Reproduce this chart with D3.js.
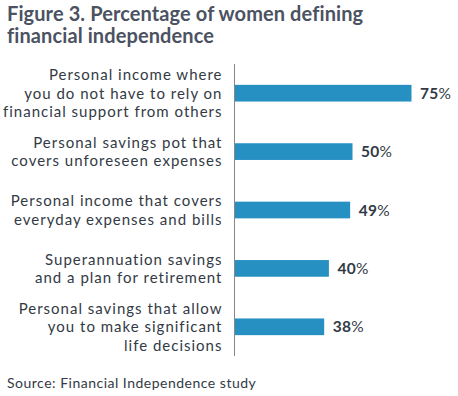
<!DOCTYPE html>
<html>
<head>
<meta charset="utf-8">
<script src="https://cdn.jsdelivr.net/npm/d3@7"></script>
<style>
  body { margin: 0; background: #fff; }
  svg { font-family: Lato, "Open Sans", sans-serif; }
</style>
</head>
<body>
<div id="chart"></div>
<script>
// chart data
const categories = [
  ["Personal income where", "you do not have to rely on", "financial support from others"],
  ["Personal savings pot that", "covers unforeseen expenses"],
  ["Personal income that covers", "everyday expenses and bills"],
  ["Superannuation savings", "and a plan for retirement"],
  ["Personal savings that allow", "you to make significant", "life decisions"]
];
const values = [75, 50, 49, 40, 38];
const titleLines = ["Figure 3. Percentage of women defining", "financial independence"];
const sourceText = "Source: Financial Independence study";

const width = 458, height = 396;
const axisX = 234.5;
const plotTop = 64, plotBottom = 356;

const svg = d3.select("#chart").append("svg")
    .attr("width", width)
    .attr("height", height);

// title
svg.append("g").selectAll("text")
    .data(titleLines)
    .enter().append("text")
    .attr("x", 7)
    .attr("y", (d, i) => 21 + i * 22)
    .style("font-size", "20px")
    .style("font-weight", "bold")
    .style("letter-spacing", "0.1px")
    .style("fill", "#4b5262")
    .text(d => d);

const x = d3.scaleLinear()
    .domain([0, 100])
    .range([axisX, axisX + 236]);

const y = d3.scaleBand()
    .domain(d3.range(values.length))
    .range([plotTop, plotBottom])
    .paddingInner(0.714)
    .paddingOuter(0.357);

// bars
svg.selectAll(".bar")
    .data(values)
    .enter().append("rect")
    .attr("class", "bar")
    .attr("x", x(0))
    .attr("y", (d, i) => y(i))
    .attr("width", d => x(d) - x(0))
    .attr("height", y.bandwidth())
    .style("fill", "#2790c2");

// axis line
svg.append("line")
    .attr("x1", axisX).attr("x2", axisX)
    .attr("y1", plotTop).attr("y2", plotBottom)
    .style("stroke", "#8c8580")
    .style("stroke-width", 1);

// category labels
const labels = svg.selectAll(".cat")
    .data(categories)
    .enter().append("text")
    .attr("class", "cat")
    .attr("text-anchor", "end")
    .style("font-size", "15px")
    .style("letter-spacing", "1px")
    .style("fill", "#333a45");

labels.selectAll("tspan")
    .data((d, i) => d.map((t, j) => ({t, j, n: d.length, i})))
    .enter().append("tspan")
    .attr("x", axisX - 12)
    .attr("y", d => y(d.i) + y.bandwidth() / 2 + (d.j - (d.n - 1) / 2) * 18.5 + 5.5)
    .text(d => d.t);

// value labels
const vals = svg.selectAll(".val")
    .data(values)
    .enter().append("text")
    .attr("class", "val")
    .attr("x", d => x(d) + 8.5)
    .attr("y", (d, i) => y(i) + y.bandwidth() / 2 + 5.5)
    .style("font-size", "15.5px")
    .style("letter-spacing", "0.3px")
    .style("fill", "#333a45");
vals.append("tspan").style("font-weight", "bold").text(d => d);
vals.append("tspan").text("%");

// source
svg.append("text")
    .attr("x", 7)
    .attr("y", 388)
    .style("font-size", "14px")
    .style("letter-spacing", "0.5px")
    .style("fill", "#333a45")
    .text(sourceText);
</script>
</body>
</html>
